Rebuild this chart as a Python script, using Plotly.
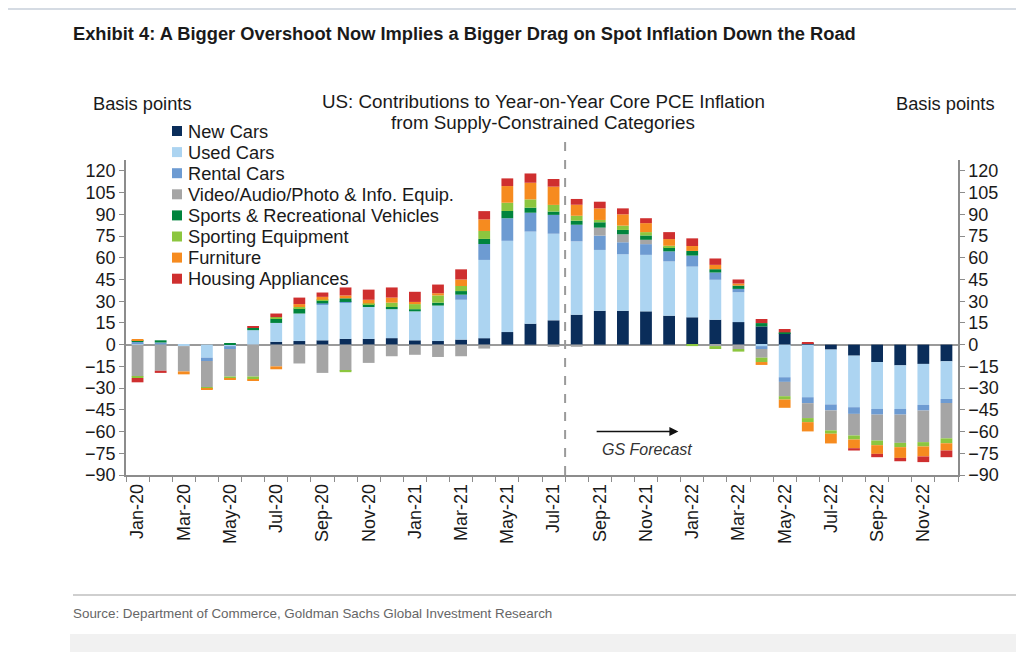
import plotly.graph_objects as go

months = ["Jan-20","Feb-20","Mar-20","Apr-20","May-20","Jun-20","Jul-20","Aug-20","Sep-20","Oct-20","Nov-20","Dec-20",
          "Jan-21","Feb-21","Mar-21","Apr-21","May-21","Jun-21","Jul-21","Aug-21","Sep-21","Oct-21","Nov-21","Dec-21",
          "Jan-22","Feb-22","Mar-22","Apr-22","May-22","Jun-22","Jul-22","Aug-22","Sep-22","Oct-22","Nov-22","Dec-22"]

new_cars = [0, 0, 0, 0, 0, 0, 2, 2.5, 3, 4, 4, 4.5, 3, 2.5, 3.5, 4.5, 8.7, 14.5, 16.8, 20.7, 23.4, 23.4, 23, 20,
            18.9, 17.2, 15.6, 12.6, 8, 1, -3.4, -7.6, -12, -14.3, -13.3, -11.5]
used_cars = [1, 0, -1, -9, -1, 10, 13, 19, 24.5, 25, 22, 20, 20, 24.5, 27.5, 54, 63, 63.6, 59.8, 50.6, 42, 39, 39, 37.5,
             35, 27.6, 20.6, -1, -22.5, -36.3, -37.9, -35.6, -32.4, -30.1, -28.3, -26]
rental_cars = [1, 1.5, 0, -2.3, -2, 0, 0, 0, 1, 0.5, 0, 0, 0, 0, 3.5, 11, 15.6, 13, 13, 11.5, 9.9, 8.3, 7.4, 6.9,
               7.6, 5, 2.3, -2, -3.2, -4.1, -4.1, -4.6, -3.9, -3.9, -3.9, -2.8]
video_audio = [-22, -18, -17.5, -18, -19, -22, -15, -13, -19.5, -18, -12.6, -8, -7, -8.5, -8, -2.7, 0, 0, -1.5, -1.5, 5.5, 5.5, 3, 0,
               0, -1, -3, -6, -9.9, -10.3, -13.8, -14.9, -17.9, -19.5, -21.8, -24.4]
sports_rec = [1, 1.5, 0, 0, 1, 1.5, 3, 3.5, 2, 2.5, 2, 1.5, 1.5, 2, 2.5, 3.5, 5, 3.5, 2.3, 2.8, 3.7, 3, 3, 3,
              3.2, 2.3, 2.3, 2.3, 0.5, 0, 0, 0, 0, 0, 0, 0]
sporting_eq = [-1, 0, 0, -0.7, -1.5, -2, 1, 1, 0.5, -1, 0.5, 3, 3.5, 5, 3.5, 5.5, 5.7, 5.7, 4.6, 3.4, 1.6, 3, 2.3, 0.9,
               -1, -2, -1.8, -3, -2.3, -2.8, -2.3, -2.8, -3.2, -3, -3, -3.4]
furniture = [0.5, 0, -2, -1, -0.5, -0.5, -2, 2, 2, 2, 2.5, 3.5, 1.5, 1.5, 4.5, 8, 11.5, 11.5, 12.6, 7.6, 8, 7.8, 6.2, 4.6,
             3.4, 3, 1.4, -2, -5.7, -6.4, -6.7, -6, -6, -7.4, -6.9, -5]
housing_app = [-3, -1.5, 0, 0, 0, 1, 2.5, 4.5, 3, 5.5, 7, 7, 7, 6, 7, 5.7, 5.3, 6.4, 5.3, 4, 4.6, 4.1, 3.4, 4.8,
               5.3, 4.4, 2.8, 2.8, 2.3, 0.5, 0, -1.6, -2.3, -2.3, -3.9, -4.6]

series_names = ["New Cars", "Used Cars", "Rental Cars", "Video/Audio/Photo & Info. Equip.",
                "Sports & Recreational Vehicles", "Sporting Equipment", "Furniture", "Housing Appliances"]
series_values = [new_cars, used_cars, rental_cars, video_audio, sports_rec, sporting_eq, furniture, housing_app]
series_colors = ["#0a2d5a", "#acd4f1", "#6d9bd2", "#a5a5a5", "#00843d", "#8cc63f", "#f68b1f", "#cf2f2f"]

y_ticks = list(range(-90, 121, 15))
x_ticktext = [m if i % 2 == 0 else "" for i, m in enumerate(months)]

# the page body adds an 8px offset; work in screenshot pixels and convert
OFF = 8
W, H = 1024 - OFF, 652 - OFF
PL, PR, PT, PB = 126, 958, 160, 475  # screenshot pixels of plot area


def px(xp):
    return (xp - PL) / (PR - PL)


def py(yp):
    return (PB - yp) / (PB - PT)


FONT = "Liberation Sans, Arial, sans-serif"
TXT = "#1a1a1a"

fig = go.Figure()
for name, vals, col in zip(series_names, series_values, series_colors):
    fig.add_trace(go.Bar(x=months, y=vals, name=name, marker=dict(color=col, line=dict(width=0)),
                         showlegend=False))

# empty trace to activate the right-hand axis
fig.add_trace(go.Scatter(x=[months[0]], y=[None], yaxis="y2", mode="lines", showlegend=False, hoverinfo="skip"))

axis_common = dict(range=[-90, 127.5], tickvals=y_ticks, showgrid=False, showline=True,
                   linecolor="#8c8c8c", linewidth=1.5, ticks="outside", ticklen=5, tickcolor="#8c8c8c",
                   tickfont=dict(family=FONT, size=18, color=TXT), automargin=False)

fig.update_layout(
    width=W, height=H,
    margin=dict(l=PL - OFF, r=1024 - PR, t=PT - OFF, b=652 - PB, autoexpand=False),
    paper_bgcolor="white", plot_bgcolor="white",
    barmode="relative", bargap=0.49,
    showlegend=False,
    xaxis=dict(type="category", categoryorder="array", categoryarray=months, range=[-0.5, 35.5],
               tickvals=months, ticktext=x_ticktext, tickangle=-90, tickson="boundaries",
               showline=True, linecolor="#8c8c8c", linewidth=1.5, ticks="outside", ticklen=5,
               tickcolor="#8c8c8c", showgrid=False, automargin=False,
               tickfont=dict(family=FONT, size=18, color=TXT)),
    yaxis=dict(**axis_common, zeroline=True, zerolinecolor="#9a9a9a", zerolinewidth=1.5, side="left"),
    yaxis2=dict(**axis_common, overlaying="y", side="right", zeroline=False),
)

# dashed forecast divider between Jul-21 and Aug-21
fig.add_shape(type="line", xref="x", yref="paper", x0=18.5, x1=18.5, y0=0, y1=py(137),
              line=dict(color="#9a9a9a", width=2, dash="dash"))

# separator line above source and bottom band
fig.add_shape(type="line", xref="paper", yref="paper", x0=px(73), x1=px(1030), y0=py(595), y1=py(595),
              line=dict(color="#cfcfcf", width=2))
fig.add_shape(type="rect", xref="paper", yref="paper", x0=px(70), x1=px(1030), y0=py(660), y1=py(634),
              fillcolor="#f1f1f1", line=dict(width=0), layer="below")
fig.add_shape(type="line", xref="paper", yref="paper", x0=px(OFF), x1=px(1030), y0=py(OFF + 1), y1=py(OFF + 1),
              line=dict(color="#d5dbe3", width=2))

# legend (drawn as swatches + labels to match the tight spacing)
LEG_Y0, LEG_DY = 131, 21.1
for i, (name, col) in enumerate(zip(series_names, series_colors)):
    yc = LEG_Y0 + i * LEG_DY
    fig.add_shape(type="rect", xref="paper", yref="paper", x0=px(172), x1=px(182), y0=py(yc + 5), y1=py(yc - 5),
                  fillcolor=col, line=dict(width=0))
    fig.add_annotation(xref="paper", yref="paper", showarrow=False, text=name, x=px(186), y=py(yc),
                       xanchor="left", yanchor="middle", font=dict(family=FONT, size=18.3, color=TXT))

anns = [
    dict(text="<b>Exhibit 4: A Bigger Overshoot Now Implies a Bigger Drag on Spot Inflation Down the Road</b>",
         x=px(71), y=py(33), xanchor="left", yanchor="middle", font=dict(family=FONT, size=18.3, color="#1a1a1a")),
    dict(text="Basis points", x=px(91), y=py(104), xanchor="left", yanchor="middle",
         font=dict(family=FONT, size=18.3, color=TXT)),
    dict(text="Basis points", x=px(997), y=py(104), xanchor="right", yanchor="middle",
         font=dict(family=FONT, size=18.3, color=TXT)),
    dict(text="US: Contributions to Year-on-Year Core PCE Inflation",
         x=px(543), y=py(101), xanchor="center", yanchor="middle",
         font=dict(family=FONT, size=18.8, color=TXT)),
    dict(text="from Supply-Constrained Categories",
         x=px(543), y=py(122), xanchor="center", yanchor="middle",
         font=dict(family=FONT, size=18.8, color=TXT)),
    dict(text="Source: Department of Commerce, Goldman Sachs Global Investment Research",
         x=px(71), y=py(613), xanchor="left", yanchor="middle", font=dict(family=FONT, size=13.4, color="#666666")),
    dict(text="<i>GS Forecast</i>", x=px(647), y=py(449), xanchor="center", yanchor="middle",
         font=dict(family=FONT, size=16, color="#333333")),
]
for a in anns:
    fig.add_annotation(xref="paper", yref="paper", showarrow=False, **a)

fig.add_annotation(xref="x", yref="y", axref="x", ayref="y", x=23.4, y=-60, ax=19.8, ay=-60,
                   showarrow=True, arrowhead=2, arrowsize=1.2, arrowwidth=1.5, arrowcolor="#111111", text="")

fig.write_html("out.html")
